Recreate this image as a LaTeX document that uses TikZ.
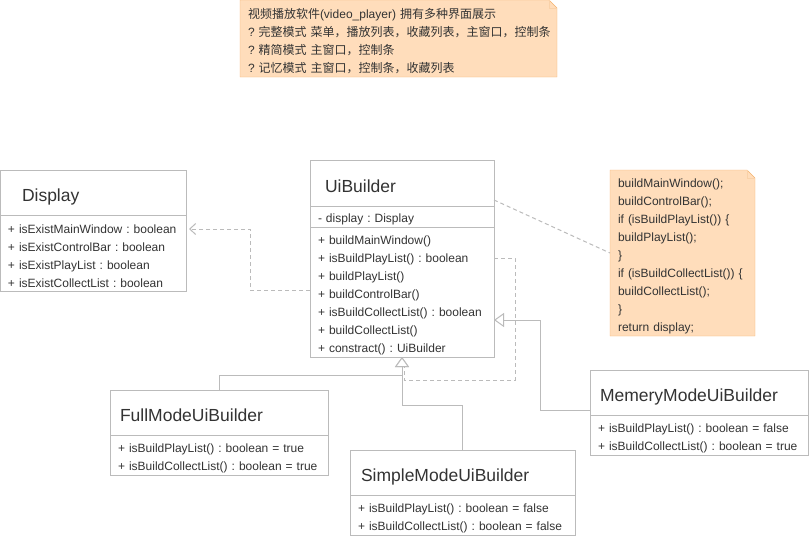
\documentclass[tikz,border=0pt]{standalone}
\usepackage{fontspec}
\setmainfont{Liberation Sans}
\newfontfamily\cjk{Noto Sans CJK SC}
\usepackage{xcolor}
\usepackage{tikz}
\usetikzlibrary{shapes,arrows.meta,positioning,backgrounds}
\definecolor{UmlGray}{HTML}{BBBBBB}
\definecolor{UmlText}{HTML}{333333}
\definecolor{NoteFill}{HTML}{FFDDBB}
\definecolor{NoteLine}{HTML}{F5B36E}
\frenchspacing

\begin{document}
\begin{tikzpicture}[
  x=1pt, y=-1pt, line width=1pt,
  classhead/.style 2 args={rectangle, draw=UmlGray, fill=white, text=UmlText, text width=#1, inner xsep=#2, inner ysep=0pt, outer sep=0pt, minimum height=45pt, text height=18pt, text depth=0pt, align=left, anchor=north west, font=\fontsize{17.5}{20}\selectfont},
  classbody/.style 2 args={rectangle, draw=UmlGray, fill=white, text=UmlText, text width=#1, inner xsep=8pt, inner ysep=0pt, outer sep=0pt, minimum height=#2, align=left, font=\fontsize{12}{18}\selectfont, execute at begin node={\rule{0pt}{15pt}}},
  notebox/.style={rectangle, text=UmlText, inner xsep=8pt, inner ysep=0pt, outer sep=0pt, align=left, anchor=north west, font=\fontsize{12}{18}\selectfont, execute at begin node={\rule{0pt}{15pt}}},
  noteline/.style={draw=NoteLine, fill=NoteFill},
  dep/.style={draw=UmlGray, dash pattern=on 4pt off 3pt, shorten >=3pt, -{Straight Barb[length=6pt,width=11pt]}},
  gen/.style={draw=UmlGray, -{Triangle[length=10pt,width=14pt,fill=white]}},
  link/.style={draw=UmlGray, dash pattern=on 4pt off 3pt}
]
\useasboundingbox (0,0) rectangle (809,536);

% Notes
\node[notebox, text width=301pt, minimum height=77pt] (modenote) at (240,0) {{\cjk 视频播放软件}(video\_player) {\cjk 拥有多种界面展示}\\?~{\cjk 完整模式~菜单，播放列表，收藏列表，主窗口，控制条}\\?~{\cjk 精简模式~主窗口，控制条}\\?~{\cjk 记忆模式~主窗口，控制条，收藏列表}};
\node[notebox, text width=129pt, minimum height=166pt] (codenote) at (610,170) {buildMainWindow();\\buildControlBar();\\if (isBuildPlayList()) \{\\buildPlayList();\\\}\\if (isBuildCollectList()) \{\\buildCollectList();\\\}\\return display;};

\begin{scope}[on background layer]
\draw[noteline] (modenote.north west) -- ([xshift=-8pt]modenote.north east) -- ([yshift=-8pt]modenote.north east) -- (modenote.south east) -- (modenote.south west) -- cycle;
\draw[NoteLine!60] ([xshift=-8pt]modenote.north east) |- ([yshift=-8pt]modenote.north east);
\draw[noteline] (codenote.north west) -- ([xshift=-8pt]codenote.north east) -- ([yshift=-8pt]codenote.north east) -- (codenote.south east) -- (codenote.south west) -- cycle;
\draw[NoteLine!60] ([xshift=-8pt]codenote.north east) |- ([yshift=-8pt]codenote.north east);
\end{scope}

% Display
\node[classhead={142pt}{22pt}] (disphead) at (0,170) {Display};
\node[classbody={170pt}{76pt}, below=0pt of disphead] (dispattr) {+ isExistMainWindow : boolean\\+ isExistControlBar : boolean\\+ isExistPlayList : boolean\\+ isExistCollectList : boolean};

% UiBuilder
\node[classhead={154pt}{15pt}, minimum height=46pt] (uihead) at (310,160) {UiBuilder};
\node[classbody={168pt}{21pt}, below=0pt of uihead] (uiattr) {- display : Display};
\node[classbody={168pt}{130pt}, below=0pt of uiattr] (uimeth) {+ buildMainWindow()\\+ isBuildPlayList() : boolean\\+ buildPlayList()\\+ buildControlBar()\\+ isBuildCollectList() : boolean\\+ buildCollectList()\\+ constract() : UiBuilder};

% Concrete builders
\node[classhead={198pt}{10pt}] (fullhead) at (110,390) {FullModeUiBuilder};
\node[classbody={202pt}{40pt}, below=0pt of fullhead] (fullattr) {+ isBuildPlayList() : boolean = true\\+ isBuildCollectList() : boolean = true};
\node[classhead={203pt}{11pt}] (simplehead) at (350,450) {SimpleModeUiBuilder};
\node[classbody={209pt}{40pt}, below=0pt of simplehead] (simpleattr) {+ isBuildPlayList() : boolean = false\\+ isBuildCollectList() : boolean = false};
\node[classhead={198pt}{10pt}] (memhead) at (590,370) {MemeryModeUiBuilder};
\node[classbody={202pt}{40pt}, below=0pt of memhead] (memattr) {+ isBuildPlayList() : boolean = false\\+ isBuildCollectList() : boolean = true};

% Dependency and note link
\draw[dep] ([yshift=2pt]uimeth.west) -- ++(-60pt,0) |- ([yshift=-14pt]dispattr.north east);
\draw[link] ([yshift=-17pt]uihead.east) -- (codenote.west);
\draw[link] ([yshift=34pt]uimeth.east) -- ++(21pt,0) |- ([xshift=2pt,yshift=-23pt]uimeth.south) -- ([xshift=2pt,yshift=-10pt]uimeth.south);

% Generalization
\draw[gen] (fullhead.north) -- ++(0,15pt) -| (uimeth.south);
\draw[gen] (simplehead.north) -- ++(0,45pt) -| (uimeth.south);
\draw[gen] ([yshift=-18pt]memhead.west) -- ++(-50pt,0) |- ([yshift=-28pt]uimeth.east);

\end{tikzpicture}
\end{document}
